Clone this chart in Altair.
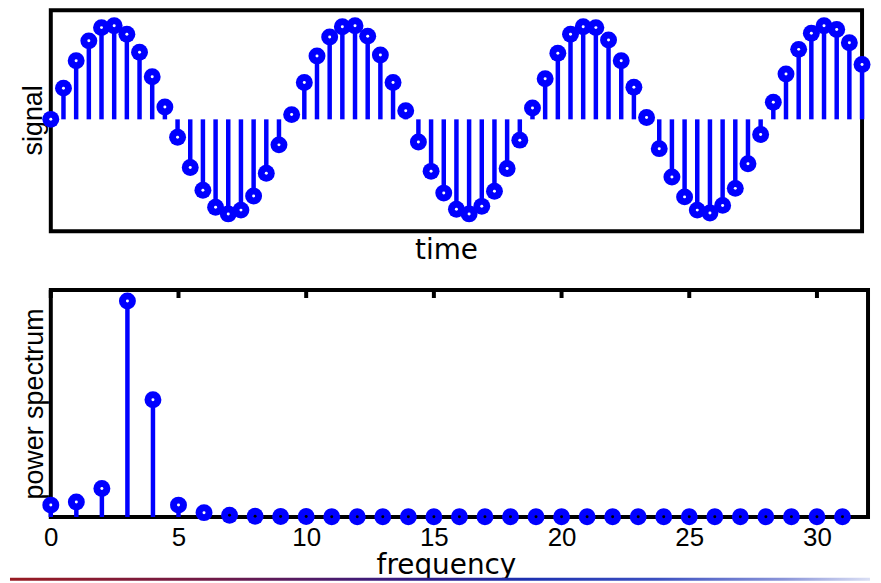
import altair as alt
import pandas as pd

# ---- data ----
signal_time = list(range(65))
signal_values = [
    0.00, 0.33, 0.62, 0.83, 0.97, 0.99, 0.90, 0.71, 0.45, 0.13,
    -0.19, -0.51, -0.75, -0.93, -1.00, -0.96, -0.81, -0.57, -0.27, 0.05,
    0.39, 0.67, 0.87, 0.98, 0.99, 0.88, 0.68, 0.39, 0.09, -0.24,
    -0.55, -0.78, -0.95, -1.00, -0.92, -0.76, -0.52, -0.22, 0.12, 0.43,
    0.70, 0.90, 0.98, 0.97, 0.84, 0.62, 0.34, 0.02, -0.31, -0.61,
    -0.82, -0.96, -0.99, -0.91, -0.73, -0.47, -0.16, 0.18, 0.48, 0.74,
    0.91, 0.99, 0.95, 0.81, 0.58,
]

freq_bins = list(range(32))
power_values = [
    0.055, 0.069, 0.132, 1.000, 0.543, 0.055, 0.020, 0.008,
    0.003, 0.002, 0.002, 0.001, 0.001, 0.001, 0.001, 0.001,
    0.001, 0.001, 0.001, 0.001, 0.001, 0.001, 0.001, 0.001,
    0.001, 0.001, 0.001, 0.001, 0.001, 0.001, 0.001, 0.001,
]
freq_ticks = [0, 5, 10, 15, 20, 25, 30]

BLUE = "#0000ff"
SANS = "Liberation Sans"
HAND = "DejaVu Sans"
RING = 289   # outer ring area (17 px across)
HOLE = 9     # centre hole (3 px across)

sig_df = pd.DataFrame({"time": signal_time, "signal": signal_values})
pow_df = pd.DataFrame({"frequency": freq_bins, "power": power_values})
tick_df = pd.DataFrame({"frequency": freq_ticks})
deco_df = pd.DataFrame({"k": [0]})

# ---- top panel: signal ----
TOP_W, TOP_H = 815, 222
x_top = alt.X(
    "time:Q",
    scale=alt.Scale(domain=[0, 64], nice=False, zero=False),
    axis=alt.Axis(
        title="time", labels=False, ticks=False, domain=False, grid=False,
        titleFont=HAND, titleFontSize=28, titleFontWeight="normal", titleColor="black",
        titleX=397, titleY=27, titleAlign="center", titleBaseline="alphabetic",
    ),
)
y_top = alt.Y(
    "signal:Q",
    scale=alt.Scale(domain=[-1.184, 1.153], nice=False, zero=False),
    axis=alt.Axis(
        title="signal", labels=False, ticks=False, domain=False, grid=False,
        titleFont=SANS, titleFontSize=27, titleFontWeight="normal", titleColor="black",
        titleAngle=270, titleX=-17, titleY=110, titleAlign="center", titleBaseline="middle",
    ),
)

top_stems = alt.Chart(sig_df).mark_rule(color=BLUE, strokeWidth=4.5).encode(
    x=x_top, y=y_top, y2=alt.datum(0)
)
top_rings = alt.Chart(sig_df).mark_circle(
    size=RING, color=BLUE, opacity=1, strokeWidth=0
).encode(x=x_top, y=y_top)
top_holes = alt.Chart(sig_df).mark_circle(
    size=HOLE, color="white", opacity=1, strokeWidth=0
).encode(x=x_top, y=y_top)

top = alt.layer(top_stems, top_rings, top_holes).properties(width=TOP_W, height=TOP_H)

# ---- bottom panel: power spectrum ----
BOT_W, BOT_H = 821, 228
x_bot = alt.X(
    "frequency:Q",
    scale=alt.Scale(domain=[0, 32], nice=False, zero=False),
    axis=alt.Axis(
        title="frequency", values=freq_ticks, ticks=False, domain=False, grid=False,
        labelFont=SANS, labelFontSize=26, labelColor="black", labelPadding=8,
        labelFlush=False, labelAngle=0,
        titleFont=HAND, titleFontSize=28, titleFontWeight="normal", titleColor="black",
        titleX=397, titleY=57, titleAlign="center", titleBaseline="alphabetic",
    ),
)
y_bot = alt.Y(
    "power:Q",
    scale=alt.Scale(domain=[0, 1.051], nice=False, zero=False),
    axis=alt.Axis(
        title="power spectrum", labels=False, ticks=False, domain=False, grid=False,
        titleFont=SANS, titleFontSize=27, titleFontWeight="normal", titleColor="black",
        titleAngle=270, titleX=-16, titleY=114, titleAlign="center", titleBaseline="middle",
    ),
)

bot_stems = alt.Chart(pow_df).mark_rule(color=BLUE, strokeWidth=4.5).encode(
    x=x_bot, y=y_bot, y2=alt.datum(0)
)
bot_rings = alt.Chart(pow_df).mark_circle(
    size=RING, color=BLUE, opacity=1, strokeWidth=0
).encode(x=x_bot, y=y_bot)
bot_holes = alt.Chart(pow_df).mark_circle(size=HOLE, opacity=1, strokeWidth=0).encode(
    x=x_bot,
    y=y_bot,
    color=alt.condition(alt.datum.power < 0.01, alt.value("black"), alt.value("white")),
)
bot_ticks = alt.Chart(tick_df).mark_rule(color="black", strokeWidth=4).encode(
    x=x_bot, y=alt.value(0), y2=alt.value(8)
)

bar_gradient = alt.LinearGradient(
    gradient="linear",
    stops=[
        alt.GradientStop(offset=0.0, color="#981b22"),
        alt.GradientStop(offset=0.24, color="#6e1a48"),
        alt.GradientStop(offset=0.49, color="#2c1c8c"),
        alt.GradientStop(offset=0.6, color="#1c30b0"),
        alt.GradientStop(offset=0.75, color="#3b4fc0"),
        alt.GradientStop(offset=0.9, color="#8a94d8"),
        alt.GradientStop(offset=1.0, color="#dadff4"),
    ],
    x1=0, x2=1, y1=0, y2=0,
)
deco_bar = alt.Chart(deco_df).mark_rect(color=bar_gradient).encode(
    x=alt.value(-41), x2=alt.value(823), y=alt.value(289), y2=alt.value(292)
)

bottom = alt.layer(bot_ticks, bot_stems, bot_rings, bot_holes, deco_bar).properties(
    width=BOT_W, height=BOT_H
)

chart = (
    alt.vconcat(top, bottom, spacing=20)
    .properties(
        padding={"top": -1, "left": 0, "right": 0, "bottom": 0},
        background="white",
    )
    .configure_view(stroke="black", strokeWidth=4)
)

chart.save("out.html", embed_options={"renderer": "svg", "actions": False})
